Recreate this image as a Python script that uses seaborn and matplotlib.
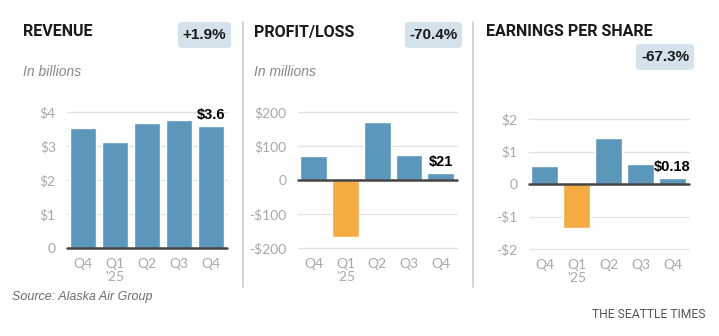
import matplotlib
matplotlib.use("Agg")
import matplotlib.pyplot as plt
from matplotlib.patches import FancyBboxPatch
import seaborn as sns
import pandas as pd

# ---- data ----
periods = ["Q4 '24", "Q1 '25", "Q2 '25", "Q3 '25", "Q4 '25"]
tick_labels = ["Q4", "Q1\n'25", "Q2", "Q3", "Q4"]
revenue = [3.53, 3.14, 3.70, 3.77, 3.60]
profit = [71, -166, 172, 73, 21]
eps = [0.55, -1.35, 1.43, 0.62, 0.18]

titles = ["REVENUE", "PROFIT/LOSS", "EARNINGS PER SHARE"]
subtitles = ["In billions", "In millions", ""]
changes = ["+1.9%", "-70.4%", "-67.3%"]
last_labels = ["$3.6", "$21", "$0.18"]
rev_ticks = [0, 1, 2, 3, 4]
rev_tick_labels = ["0", "$1", "$2", "$3", "$4"]
profit_ticks = [-200, -100, 0, 100, 200]
profit_tick_labels = ["-$200", "-$100", "0", "$100", "$200"]
eps_ticks = [-2, -1, 0, 1, 2]
eps_tick_labels = ["-$2", "-$1", "0", "$1", "$2"]

BLUE = "#5b96bb"
ORANGE = "#f4ab42"
GRID = "#e2e2e2"
TICK = "#a8a8a8"

sns.set_theme(style="white")
plt.rcParams["font.family"] = ["Lato", "DejaVu Sans"]

W, H = 719, 336
fig = plt.figure(figsize=(W / 100, H / 100), dpi=100)
fig.patch.set_facecolor("white")


def fx(px):
    return px / W


def fy(py):
    return 1 - py / H


def axes_rect(x0, x1, y0, y1):
    return [fx(x0), fy(y1), fx(x1) - fx(x0), (y1 - y0) / H]


panels = [
    dict(vals=revenue, ticks=rev_ticks, tl=rev_tick_labels, ylim=(0, 4),
         rect=axes_rect(67, 227, 112.3, 248.3)),
    dict(vals=profit, ticks=profit_ticks, tl=profit_tick_labels, ylim=(-200, 200),
         rect=axes_rect(297.8, 456.6, 112.3, 248.3)),
    dict(vals=eps, ticks=eps_ticks, tl=eps_tick_labels, ylim=(-2, 2),
         rect=axes_rect(528.9, 688.5, 119.3, 249)),
]

for i, p in enumerate(panels):
    ax = fig.add_axes(p["rect"])
    df = pd.DataFrame({"period": periods, "value": p["vals"]})
    colors = [BLUE if v >= 0 else ORANGE for v in p["vals"]]
    sns.barplot(data=df, x="period", y="value", hue="period", palette=colors,
                legend=False, width=0.84, ax=ax, saturation=1, zorder=3)
    ax.set_xlim(-0.5, 4.5)
    ax.set_ylim(*p["ylim"])
    ax.set_yticks(p["ticks"])
    ax.set_yticklabels(p["tl"])
    ax.set_xticks(range(len(periods)))
    ax.set_xticklabels(tick_labels, linespacing=1.12)
    ax.set_xlabel("")
    ax.set_ylabel("")
    for s in ax.spines.values():
        s.set_visible(False)
    for t in p["ticks"]:
        if t == 0:
            ax.axhline(0, color="#444444", lw=1.8, zorder=4, clip_on=False)
        else:
            ax.axhline(t, color=GRID, lw=1.0, zorder=1, clip_on=False)
    ax.tick_params(axis="y", length=0, pad=8, labelsize=10, labelcolor=TICK)
    ax.tick_params(axis="x", length=0, pad=7, labelsize=10, labelcolor=TICK)
    for lab in ax.get_xticklabels():
        lab.set_verticalalignment("top")
    # last bar label
    last = p["vals"][-1]
    ax.annotate(last_labels[i], xy=(4, last), xytext=(0, 3), textcoords="offset points",
                ha="center", va="bottom", fontsize=10.5, fontweight="bold",
                color="black", family=["Liberation Sans", "DejaVu Sans"], zorder=5)

# titles
title_x = [23, 254, 486]
for x, t in zip(title_x, titles):
    fig.text(fx(x), fy(32), t, ha="left", va="center", fontsize=11.5,
             fontweight="bold", color="#1a1a1a", family=["Roboto", "DejaVu Sans"])

for x, t in zip(title_x, subtitles):
    if t:
        fig.text(fx(x), fy(72), t, ha="left", va="center", fontsize=10,
                 style="italic", color="#888888", family=["Liberation Sans", "DejaVu Sans"])

# change badges (x0, x1, y0, y1 in px)
badges = [(178, 231, 22, 48), (405, 462, 22, 48), (636, 694, 44, 70)]
for (x0, x1, y0, y1), t in zip(badges, changes):
    box = FancyBboxPatch((fx(x0), fy(y1)), fx(x1) - fx(x0), (y1 - y0) / H,
                         boxstyle="round,pad=0,rounding_size=0.008",
                         transform=fig.transFigure, facecolor="#d3e2eb",
                         edgecolor="none", zorder=1)
    fig.patches.append(box)
    fig.text(fx((x0 + x1) / 2), fy((y0 + y1) / 2), t, ha="center", va="center",
             fontsize=11, fontweight="bold", color="#1a1a1a",
             family=["Liberation Sans", "DejaVu Sans"], zorder=2)

# separators
for x in (242.7, 473):
    fig.add_artist(plt.Line2D([fx(x), fx(x)], [fy(22), fy(287)], color="#cccccc",
                              lw=1.2, transform=fig.transFigure))

fig.text(fx(12.5), fy(297), "Source: Alaska Air Group", ha="left", va="center",
         fontsize=9, style="italic", color="#6b6b6b",
         family=["Liberation Sans", "DejaVu Sans"])
fig.text(fx(705), fy(315), "THE SEATTLE TIMES", ha="right", va="center",
         fontsize=8.7, color="#555555",
         family=["Roboto", "DejaVu Sans"])

fig.savefig("out.png", dpi=100, facecolor="white")
